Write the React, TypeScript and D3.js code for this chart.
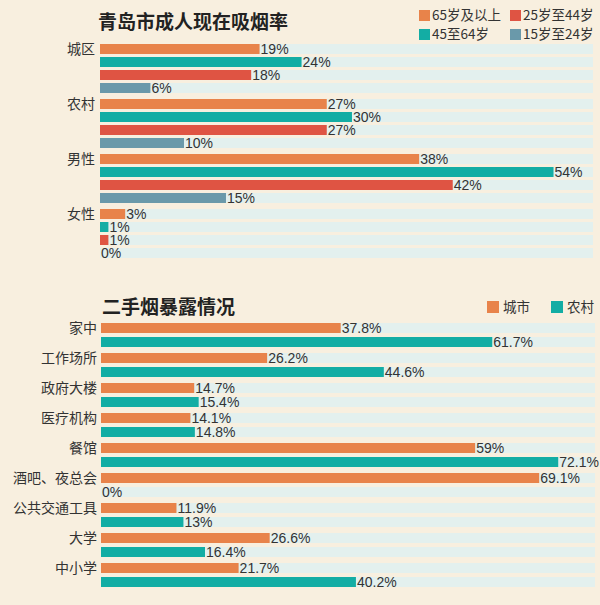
import React from "react";
import * as d3 from "d3";

const topCategories = ["城区", "农村", "男性", "女性"];
const topSeriesNames = ["65岁及以上", "45至64岁", "25岁至44岁", "15岁至24岁"];
const age65plus = [19, 27, 38, 3];
const age45to64 = [24, 30, 54, 1];
const age25to44 = [18, 27, 42, 1];
const age15to24 = [6, 10, 15, 0];
const topLegendOrder = ["65岁及以上", "25岁至44岁", "45至64岁", "15岁至24岁"];

const bottomCategories = ["家中", "工作场所", "政府大楼", "医疗机构", "餐馆", "酒吧、夜总会", "公共交通工具", "大学", "中小学"];
const bottomSeriesNames = ["城市", "农村"];
const cityValues = [37.8, 26.2, 14.7, 14.1, 59, 69.1, 11.9, 26.6, 21.7];
const ruralValues = [61.7, 44.6, 15.4, 14.8, 72.1, 0, 13, 16.4, 40.2];

const W = 600;
const H = 605;
const BG = "#F8EFDF";
const TRACK = "#E3F0EE";
const TEXT = "#333333";
const topColors: Record<string, string> = {
  "65岁及以上": "#E8834A",
  "45至64岁": "#13ADA4",
  "25岁至44岁": "#DF5443",
  "15岁至24岁": "#6A99AA",
};
const bottomColors: Record<string, string> = { "城市": "#E8834A", "农村": "#13ADA4" };

const FONT = "'Liberation Sans', Arial, 'Noto Sans CJK SC', sans-serif";
const CJK = "'Noto Sans CJK SC', sans-serif";

export default function App() {
  const topValues = [age65plus, age45to64, age25to44, age15to24];
  const bottomValues = [cityValues, ruralValues];

  // top chart scales
  const xTop = d3.scaleLinear().domain([0, 58.7]).range([100, 593]);
  const yTop = d3.scaleBand<string>().domain(topCategories).range([44, 264]).paddingInner(0).paddingOuter(0);
  const yTopInner = d3.scaleBand<string>().domain(topSeriesNames).range([0, 52]);
  const topBarH = 10;

  // bottom chart scales
  const xBot = d3.scaleLinear().domain([0, 77.9]).range([101, 595]);
  const yBot = d3.scaleBand<string>().domain(bottomCategories).range([323, 593]);
  const yBotInner = d3.scaleBand<string>().domain(bottomSeriesNames).range([0, 28]);
  const botBarH = 10;

  return (
    <div style={{ position: "absolute", left: 0, top: 0, width: W, height: H }}>
      <svg width={W} height={H} style={{ display: "block" }}>
        <rect x={0} y={0} width={W} height={H} fill={BG} />

        {/* Top title */}
        <text x={98} y={29} fontFamily={CJK} fontWeight={700} fontSize={19} fill="#222">
          青岛市成人现在吸烟率
        </text>

        {/* Top legend */}
        {topLegendOrder.map((name, i) => {
          const col = i % 2;
          const row = Math.floor(i / 2);
          const lx = 419 + col * 91;
          const ly = 10 + row * 19;
          return (
            <g key={name}>
              <rect x={lx} y={ly} width={11} height={11} fill={topColors[name]} />
              <text x={lx + 13} y={ly + 10} fontFamily={CJK} fontSize={13.5} fill={TEXT}>
                {name}
              </text>
            </g>
          );
        })}

        {/* Top chart */}
        {topCategories.map((cat, ci) => {
          const gy = yTop(cat)!;
          return (
            <g key={cat}>
              <text x={95} y={gy + yTopInner(topSeriesNames[0])! + topBarH / 2} dy="0.36em" textAnchor="end" fontFamily={CJK} fontSize={14} fill={TEXT}>
                {cat}
              </text>
              {topSeriesNames.map((s, si) => {
                const v = topValues[si][ci];
                const y = gy + yTopInner(s)!;
                const x0 = xTop(0);
                const x1 = xTop(v);
                return (
                  <g key={s}>
                    <rect x={x0} y={y} width={xTop.range()[1] - x0} height={topBarH} fill={TRACK} />
                    <rect x={x0} y={y} width={x1 - x0} height={topBarH} fill={topColors[s]} />
                    <text x={x1 + 1} y={y + topBarH / 2} dy="0.36em" fontFamily={FONT} fontSize={14} fill={TEXT}>
                      {`${v}%`}
                    </text>
                  </g>
                );
              })}
            </g>
          );
        })}

        {/* Bottom title */}
        <text x={102} y={314} fontFamily={CJK} fontWeight={700} fontSize={19} fill="#222">
          二手烟暴露情况
        </text>

        {/* Bottom legend */}
        {bottomSeriesNames.map((name, i) => {
          const lx = 487 + i * 64;
          const ly = 301;
          return (
            <g key={name}>
              <rect x={lx} y={ly} width={12} height={12} fill={bottomColors[name]} />
              <text x={lx + 16} y={ly + 11} fontFamily={CJK} fontSize={13.5} fill={TEXT}>
                {name}
              </text>
            </g>
          );
        })}

        {/* Bottom chart */}
        {bottomCategories.map((cat, ci) => {
          const gy = yBot(cat)!;
          return (
            <g key={cat}>
              <text x={97} y={gy + yBotInner(bottomSeriesNames[0])! + botBarH / 2} dy="0.36em" textAnchor="end" fontFamily={CJK} fontSize={14} fill={TEXT}>
                {cat}
              </text>
              {bottomSeriesNames.map((s, si) => {
                const v = bottomValues[si][ci];
                const y = gy + yBotInner(s)!;
                const x0 = xBot(0);
                const x1 = xBot(v);
                return (
                  <g key={s}>
                    <rect x={x0} y={y} width={xBot.range()[1] - x0} height={botBarH} fill={TRACK} />
                    <rect x={x0} y={y} width={x1 - x0} height={botBarH} fill={bottomColors[s]} />
                    <text x={x1 + 1} y={y + botBarH / 2} dy="0.36em" fontFamily={FONT} fontSize={14} fill={TEXT}>
                      {`${v}%`}
                    </text>
                  </g>
                );
              })}
            </g>
          );
        })}
      </svg>
    </div>
  );
}
